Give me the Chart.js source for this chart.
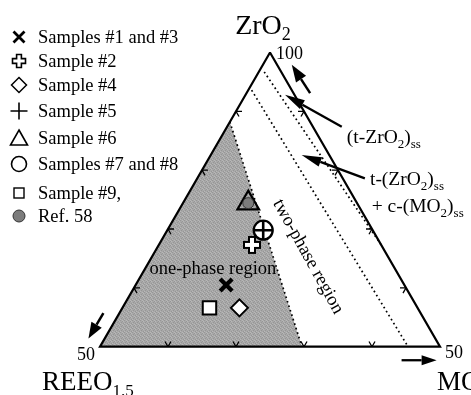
<!DOCTYPE html>
<html>
<head>
<meta charset="utf-8">
<script src="https://cdn.jsdelivr.net/npm/chart.js@4/dist/chart.umd.min.js"></script>
<style>
  html, body { margin: 0; padding: 0; background: #fff; }
  #wrap { width: 471px; height: 395px; position: relative; }
</style>
</head>
<body>
<div id="wrap"><canvas id="c"></canvas></div>
<script>
// Compositions in mol% : ZrO2 + REEO1.5 + MO2 = 100
const sampleLabels = ['Samples #1 and #3', 'Sample #2', 'Sample #4', 'Sample #5',
                      'Sample #6', 'Samples #7 and #8', 'Sample #9,', 'Ref. 58'];
const sampleZrO2 = [60.5, 67.3, 56.6, 69.8, 74.4, 69.8, 56.6, 74.4];
const sampleREEO = [26.2, 19.0, 26.2, 16.1, 16.0, 16.1, 30.6, 16.0];
const sampleMO2  = [13.3, 13.7, 17.2, 14.1,  9.6, 14.1, 12.8,  9.6];

// Phase boundaries (end points, mol%)
const onePhaseZrO2 = [88.2, 50.0];
const onePhaseREEO = [11.8, 20.3];
const onePhaseMO2  = [0.0, 29.7];

const tcBoundaryZrO2 = [93.6, 50.0];
const tcBoundaryREEO = [5.9, 4.7];
const tcBoundaryMO2  = [0.5, 45.3];

const tBoundaryZrO2 = [96.7, 67.3];
const tBoundaryREEO = [2.5, 0.0];
const tBoundaryMO2  = [0.8, 32.7];

// Tick marks along each edge (mol%)
const edgeTicks = [10, 20, 30, 40];
const apexLabel = '100';
const baseLabel = '50';

// Ternary -> plane: x = MO2 - REEO1.5, y = ZrO2 (equilateral with the chosen aspect)
const tern = (z, r, m) => ({ x: m - r, y: z });
const pts = (Z, R, M) => Z.map((z, i) => tern(z, R[i], M[i]));

const samplePts = pts(sampleZrO2, sampleREEO, sampleMO2);
const outline = [tern(100, 0, 0), tern(50, 50, 0), tern(50, 0, 50), tern(100, 0, 0)];
const bPts = pts(onePhaseZrO2, onePhaseREEO, onePhaseMO2);
const onePhasePoly = [bPts[0], tern(50, 50, 0), bPts[1], bPts[0]];

// Stippled grey for the one-phase field
function stipple() {
  const c = document.createElement('canvas');
  c.width = 4; c.height = 4;
  const g = c.getContext('2d');
  g.fillStyle = '#a8a8a8'; g.fillRect(0, 0, 4, 4);
  g.fillStyle = '#969696';
  [[0,0],[2,1],[1,2],[3,3]].forEach(([x, y]) => g.fillRect(x, y, 1, 1));
  g.fillStyle = '#b8b8b8';
  [[2,0],[0,3],[3,1]].forEach(([x, y]) => g.fillRect(x, y, 1, 1));
  return g.createPattern(c, 'repeat');
}

// Outlined "plus" symbol
function openCross(half, arm, lw) {
  const s = Math.ceil(2 * half + lw + 2);
  const c = document.createElement('canvas');
  c.width = s; c.height = s;
  const g = c.getContext('2d');
  g.translate(s / 2, s / 2);
  drawOpenCross(g, 0, 0, half, arm, lw);
  return c;
}
function drawOpenCross(g, x, y, b, a, lw) {
  const p = [[-a,-b],[a,-b],[a,-a],[b,-a],[b,a],[a,a],[a,b],[-a,b],[-a,a],[-b,a],[-b,-a],[-a,-a]];
  g.beginPath();
  p.forEach(([px, py], i) => i ? g.lineTo(x + px, y + py) : g.moveTo(x + px, y + py));
  g.closePath();
  g.fillStyle = '#fff'; g.fill();
  g.lineWidth = lw; g.strokeStyle = '#000'; g.lineJoin = 'miter'; g.stroke();
}

const dotted = [1.7, 3.0];

const datasets = [
  { type: 'line', label: 'one-phase', data: onePhasePoly, showLine: true, fill: 'shape',
    backgroundColor: stipple(), borderWidth: 0, borderColor: 'rgba(0,0,0,0)', pointRadius: 0, order: 20 },
  { type: 'line', label: 'b1', data: bPts, showLine: true, borderColor: '#000', borderWidth: 1.7,
    borderDash: dotted, pointRadius: 0, fill: false, order: 15 },
  { type: 'line', label: 'b2', data: pts(tcBoundaryZrO2, tcBoundaryREEO, tcBoundaryMO2), showLine: true,
    borderColor: '#000', borderWidth: 1.7, borderDash: dotted, pointRadius: 0, fill: false, order: 15 },
  { type: 'line', label: 'b3', data: pts(tBoundaryZrO2, tBoundaryREEO, tBoundaryMO2), showLine: true,
    borderColor: '#000', borderWidth: 1.7, borderDash: dotted, pointRadius: 0, fill: false, order: 15 },
  { type: 'line', label: 'outline', data: outline, showLine: true, borderColor: '#000', borderWidth: 2.2,
    pointRadius: 0, fill: false, order: 14 },
  // samples
  { label: sampleLabels[0], data: [samplePts[0]], pointStyle: 'crossRot', radius: 8.5, borderWidth: 4.2,
    borderColor: '#000', order: 5 },
  { label: sampleLabels[1], data: [samplePts[1]], pointStyle: openCross(8, 3, 2), radius: 8, order: 5 },
  { label: sampleLabels[2], data: [samplePts[2]], pointStyle: 'rectRot', radius: 8.5, borderWidth: 2,
    borderColor: '#000', backgroundColor: '#fff', order: 5 },
  { label: sampleLabels[5], data: [samplePts[5]], pointStyle: 'circle', radius: 9.5, borderWidth: 2.3,
    borderColor: '#000', backgroundColor: '#fff', order: 6 },
  { label: sampleLabels[3], data: [samplePts[3]], pointStyle: 'cross', radius: 9.5, borderWidth: 2.6,
    borderColor: '#000', order: 4 },
  { label: sampleLabels[7], data: [samplePts[7]], pointStyle: 'circle', radius: 5.5, borderWidth: 1,
    borderColor: '#333', backgroundColor: '#7c7c7c', order: 2 },
  { label: sampleLabels[4], data: [samplePts[4]], pointStyle: 'triangle', radius: 12.5, borderWidth: 2.2,
    borderColor: '#000', backgroundColor: 'rgba(0,0,0,0)', order: 3 },
  { label: sampleLabels[6], data: [samplePts[6]], pointStyle: 'rect', radius: 9.5, borderWidth: 2,
    borderColor: '#000', backgroundColor: '#fff', order: 5 }
];

const SERIF = '"Liberation Serif", "Times New Roman", serif';

// Text with subscripts: runs of [text, size, baselineShift]
function rich(ctx, x, y, runs, align) {
  let w = 0;
  runs.forEach(r => { ctx.font = r[1] + 'px ' + SERIF; w += ctx.measureText(r[0]).width; });
  let cx = align === 'center' ? x - w / 2 : x;
  ctx.textBaseline = 'alphabetic'; ctx.textAlign = 'left'; ctx.fillStyle = '#000';
  runs.forEach(r => {
    ctx.font = r[1] + 'px ' + SERIF;
    ctx.fillText(r[0], cx, y + (r[2] || 0));
    cx += ctx.measureText(r[0]).width;
  });
}

function arrow(ctx, x1, y1, x2, y2, headLen, headW, lw) {
  const a = Math.atan2(y2 - y1, x2 - x1);
  const bx = x2 - Math.cos(a) * headLen, by = y2 - Math.sin(a) * headLen;
  ctx.strokeStyle = '#000'; ctx.fillStyle = '#000'; ctx.lineWidth = lw; ctx.setLineDash([]);
  ctx.beginPath(); ctx.moveTo(x1, y1); ctx.lineTo(bx, by); ctx.stroke();
  const nx = -Math.sin(a) * headW / 2, ny = Math.cos(a) * headW / 2;
  ctx.beginPath();
  ctx.moveTo(x2, y2); ctx.lineTo(bx + nx, by + ny); ctx.lineTo(bx - nx, by - ny); ctx.closePath();
  ctx.fill();
}

const legendMarkers = [
  (g, x, y) => { g.lineWidth = 2.8; g.beginPath(); g.moveTo(x-5.5,y-5.5); g.lineTo(x+5.5,y+5.5);
                 g.moveTo(x+5.5,y-5.5); g.lineTo(x-5.5,y+5.5); g.stroke(); },
  (g, x, y) => drawOpenCross(g, x, y, 6.5, 2.4, 1.6),
  (g, x, y) => { g.lineWidth = 1.5; g.beginPath(); g.moveTo(x,y-7.5); g.lineTo(x+7.5,y); g.lineTo(x,y+7.5);
                 g.lineTo(x-7.5,y); g.closePath(); g.stroke(); },
  (g, x, y) => { g.lineWidth = 1.6; g.beginPath(); g.moveTo(x-8.5,y); g.lineTo(x+8.5,y);
                 g.moveTo(x,y-8.5); g.lineTo(x,y+8.5); g.stroke(); },
  (g, x, y) => { g.lineWidth = 1.6; g.beginPath(); g.moveTo(x,y-8); g.lineTo(x+8.5,y+7); g.lineTo(x-8.5,y+7);
                 g.closePath(); g.stroke(); },
  (g, x, y) => { g.lineWidth = 1.6; g.beginPath(); g.arc(x, y, 7.5, 0, Math.PI*2); g.stroke(); },
  (g, x, y) => { g.lineWidth = 1.4; g.strokeRect(x-5, y-5, 10, 10); },
  (g, x, y) => { g.lineWidth = 1; g.beginPath(); g.arc(x, y, 6, 0, Math.PI*2);
                 g.fillStyle = '#7c7c7c'; g.fill(); g.strokeStyle = '#333'; g.stroke(); }
];
const legendRows = [37, 61, 85, 111, 138, 164, 193, 216];

const decor = {
  id: 'decor',
  afterDatasetsDraw(chart) {
    const ctx = chart.ctx, xs = chart.scales.x, ys = chart.scales.y;
    const P = (x, y) => [xs.getPixelForValue(x), ys.getPixelForValue(y)];
    ctx.save();
    ctx.setLineDash([]);
    ctx.strokeStyle = '#000'; ctx.lineWidth = 1.3;
    const L = 6, c60 = 0.5, s60 = Math.sqrt(3) / 2;
    const tick = (px, py, dirs) => {
      ctx.beginPath();
      dirs.forEach(([dx, dy]) => { ctx.moveTo(px, py); ctx.lineTo(px + dx * L, py + dy * L); });
      ctx.stroke();
    };
    edgeTicks.forEach(t => {
      let p = tern(100 - t, t, 0); let [px, py] = P(p.x, p.y);
      tick(px, py, [[1, 0], [c60, s60]]);
      p = tern(50, 50 - t, t); [px, py] = P(p.x, p.y);
      tick(px, py, [[-c60, -s60], [c60, -s60]]);
      p = tern(100 - t, 0, t); [px, py] = P(p.x, p.y);
      tick(px, py, [[-1, 0], [-c60, s60]]);
    });

    // direction arrows at the vertices and callouts (plot coordinates)
    const A = (x1, y1, x2, y2, hl, hw, lw) => {
      const [a, b] = P(x1, y1), [c, d] = P(x2, y2); arrow(ctx, a, b, c, d, hl, hw, lw);
    };
    A(11.8, 93.1, 6.4, 97.9, 17, 12, 2.5);
    A(-49.0, 55.7, -53.4, 51.4, 16, 12, 2.5);
    A(38.7, 47.7, 49.0, 47.7, 15, 10, 2.3);
    A(21.1, 87.4, 4.4, 92.8, 20, 10, 2.3);
    A(27.9, 78.6, 9.3, 82.6, 20, 10, 2.3);
    ctx.restore();
  },
  afterDraw(chart) {
    const ctx = chart.ctx, xs = chart.scales.x, ys = chart.scales.y;
    const P = (x, y) => [xs.getPixelForValue(x), ys.getPixelForValue(y)];
    ctx.save();
    const [ax, ay] = P(0, 100), [lx, ly] = P(-50, 50), [rx, ry] = P(50, 50);

    rich(ctx, ax - 7, ay - 19, [['ZrO', 28], ['2', 18, 6]], 'center');
    rich(ctx, lx - 58, ly + 43, [['REEO', 27], ['1.5', 17, 6]], 'left');
    rich(ctx, rx - 3, ry + 43, [['MO', 27], ['2', 17, 6]], 'left');
    rich(ctx, ax + 6, ay + 6, [[apexLabel, 18]], 'left');
    rich(ctx, lx - 23, ly + 13, [[baseLabel, 18]], 'left');
    rich(ctx, rx + 5, ry + 11, [[baseLabel, 18]], 'left');

    let [tx, ty] = P(22.6, 84.6);
    rich(ctx, tx, ty, [['(t-ZrO', 19.5], ['2', 13, 5], [')', 19.5], ['ss', 13, 5]], 'left');
    [tx, ty] = P(29.4, 77.5);
    rich(ctx, tx, ty, [['t-(ZrO', 19.5], ['2', 13, 5], [')', 19.5], ['ss', 13, 5]], 'left');
    [tx, ty] = P(29.9, 72.9);
    rich(ctx, tx, ty, [['+ c-(MO', 19.5], ['2', 13, 5], [')', 19.5], ['ss', 13, 5]], 'left');

    ctx.font = '18.5px ' + SERIF; ctx.fillStyle = '#000';
    ctx.textAlign = 'center'; ctx.textBaseline = 'middle';
    [tx, ty] = P(-16.8, 63.1);
    ctx.fillText('one-phase region', tx, ty);

    [tx, ty] = P(11.2, 65.3);
    ctx.save(); ctx.translate(tx, ty); ctx.rotate(61 * Math.PI / 180);
    ctx.fillText('two-phase region', 0, 0);
    ctx.restore();

    // legend
    ctx.strokeStyle = '#000'; ctx.fillStyle = '#000'; ctx.setLineDash([]);
    legendRows.forEach((y, i) => {
      ctx.save(); ctx.strokeStyle = '#000';
      legendMarkers[i](ctx, 19, y);
      ctx.restore();
      ctx.font = '18.5px ' + SERIF; ctx.fillStyle = '#000';
      ctx.textAlign = 'left'; ctx.textBaseline = 'middle';
      ctx.fillText(sampleLabels[i], 38, y + 1);
    });
    ctx.restore();
  }
};

new Chart(document.getElementById('c'), {
  type: 'scatter',
  data: { datasets },
  options: {
    responsive: true,
    maintainAspectRatio: false,
    animation: false,
    devicePixelRatio: 1,
    layout: { padding: { left: 100, right: 31, top: 52.5, bottom: 48.3 } },
    scales: {
      x: { type: 'linear', min: -50, max: 50, display: false },
      y: { type: 'linear', min: 50, max: 100, display: false }
    },
    plugins: { legend: { display: false }, tooltip: { enabled: false } },
    elements: { line: { tension: 0 } },
    clip: false
  },
  plugins: [decor]
});
</script>
</body>
</html>
